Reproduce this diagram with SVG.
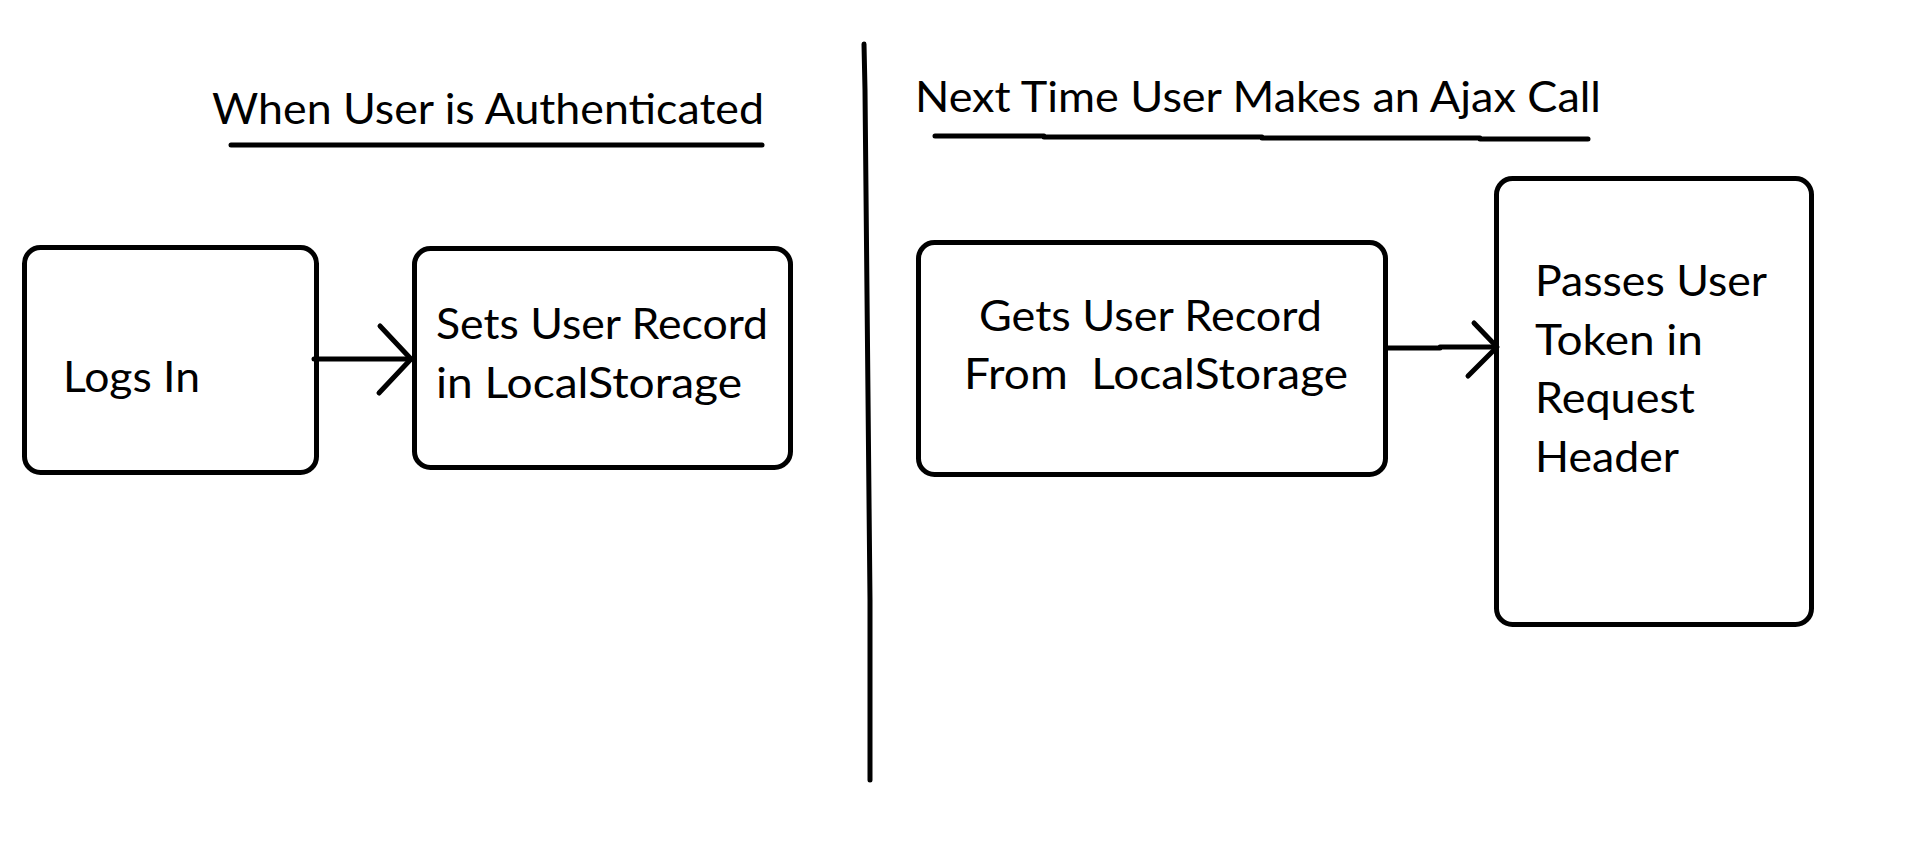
<svg xmlns="http://www.w3.org/2000/svg" width="1914" height="846" viewBox="0 0 1914 846">
<style>
.bg{fill:#ffffff}
.box{fill:#ffffff;stroke:#000;stroke-width:5}
.ln{fill:none;stroke:#000;stroke-width:5;stroke-linecap:round;stroke-linejoin:round}
.t{font-family:Lato,"Open Sans","Liberation Sans",sans-serif;font-size:43px;fill:#000}
</style>
<rect class="bg" x="0" y="0" width="1914" height="846"/>
<g id="headings">
<text class="t" x="212" y="124" textLength="552" lengthAdjust="spacingAndGlyphs">When User is Authenticated</text>
<polyline class="ln" points="231,145 762,145"/>
<text class="t" x="915" y="112" textLength="686" lengthAdjust="spacingAndGlyphs">Next Time User Makes an Ajax Call</text>
<polyline class="ln" points="935,136 1044,136 1044,137 1262,137 1262,138 1480,138 1480,139 1588,139"/>
</g>
<g id="divider">
<polyline class="ln" points="864,44 865,90 866,192 867,294 868,396 869,500 870,600 870,780"/>
</g>
<g id="node-logs-in">
<rect class="box" x="24.5" y="247.5" width="292" height="225" rx="16"/>
<text class="t" x="63" y="392" textLength="137" lengthAdjust="spacingAndGlyphs">Logs In</text>
</g>
<g id="node-sets-user-record">
<rect class="box" x="414.5" y="248.5" width="376" height="219" rx="16"/>
<text class="t" x="436" y="339" textLength="332" lengthAdjust="spacingAndGlyphs">Sets User Record</text>
<text class="t" x="436" y="398" textLength="306" lengthAdjust="spacingAndGlyphs">in LocalStorage</text>
</g>
<g id="node-gets-user-record">
<rect class="box" x="918.5" y="242.5" width="467" height="232" rx="16"/>
<text class="t" x="979" y="331" textLength="343" lengthAdjust="spacingAndGlyphs">Gets User Record</text>
<text class="t" x="964" y="389" textLength="384" lengthAdjust="spacingAndGlyphs" xml:space="preserve">From  LocalStorage</text>
</g>
<g id="node-passes-user-token">
<rect class="box" x="1496.5" y="178.5" width="315" height="446" rx="16"/>
<text class="t" x="1535" y="296" textLength="232" lengthAdjust="spacingAndGlyphs">Passes User</text>
<text class="t" x="1535" y="355" textLength="168" lengthAdjust="spacingAndGlyphs">Token in</text>
<text class="t" x="1535" y="413" textLength="160" lengthAdjust="spacingAndGlyphs">Request</text>
<text class="t" x="1535" y="472" textLength="144" lengthAdjust="spacingAndGlyphs">Header</text>
</g>
<g id="connectors">
<polyline class="ln" points="314,359 411,359"/>
<polyline class="ln" points="380,326 411,359 379,393"/>
<polyline class="ln" points="1388,348 1440,348 1440,347 1496,347"/>
<polyline class="ln" points="1474,323 1497,347 1468,376"/>
</g>
</svg>
